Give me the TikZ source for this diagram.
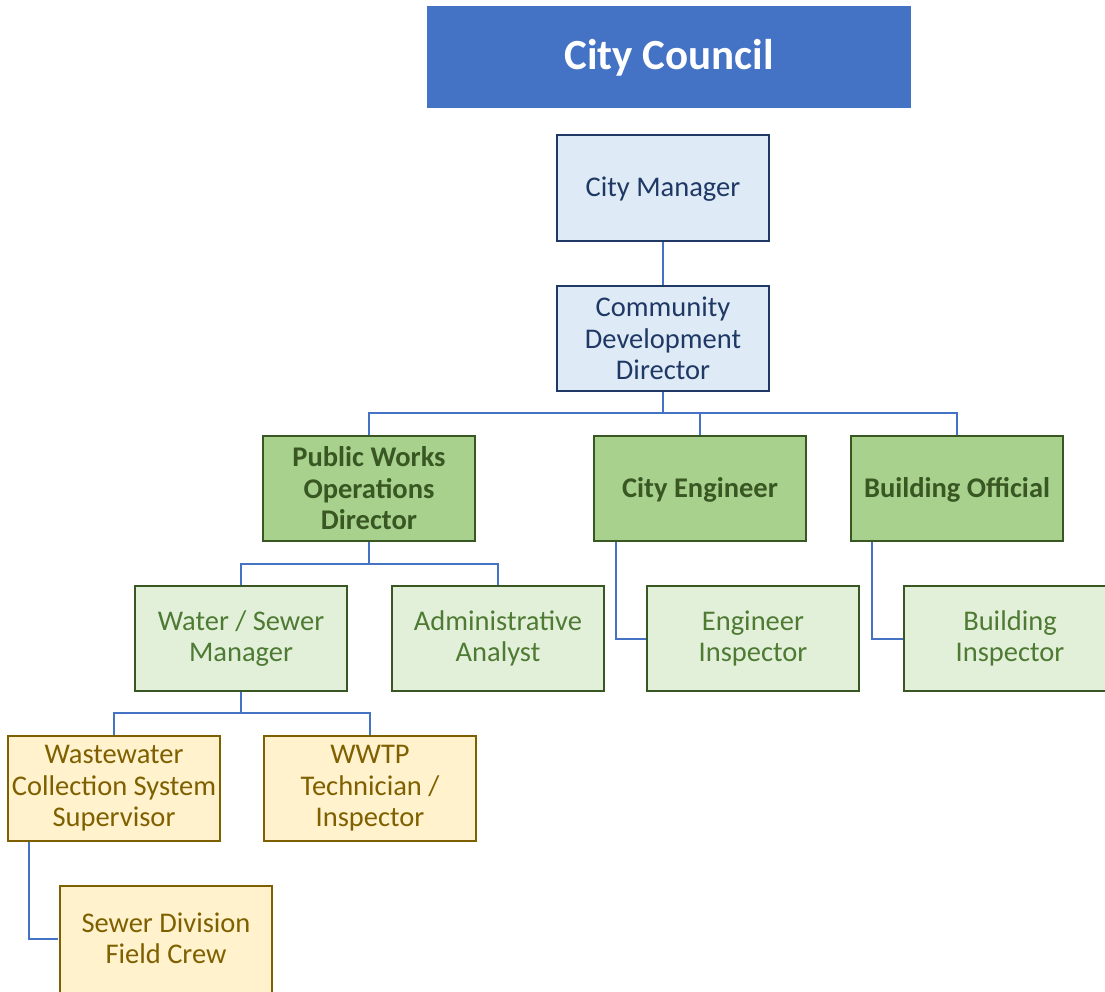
\documentclass[tikz,border=0pt]{standalone}
\usepackage{fontspec}
\setmainfont{Carlito}
\usetikzlibrary{calc}
\definecolor{ccblue}{HTML}{4472C4}
\definecolor{lbfill}{HTML}{DEEBF7}
\definecolor{lbdraw}{HTML}{203864}
\definecolor{lbtext}{HTML}{1F3864}
\definecolor{dgfill}{HTML}{A9D18E}
\definecolor{dgdraw}{HTML}{385723}
\definecolor{dgtext}{HTML}{385723}
\definecolor{lgfill}{HTML}{E2F0D9}
\definecolor{lgtext}{HTML}{4E7A33}
\definecolor{yfill}{HTML}{FFF2CC}
\definecolor{ydraw}{HTML}{7F6000}
\definecolor{ytext}{HTML}{7F6000}
\begin{document}
\begin{tikzpicture}[x=1pt,y=-1pt,
  box/.style={rectangle, inner sep=0pt, minimum width=212pt, minimum height=105pt,
    line width=2pt, align=center, font=\fontsize{28.5}{31.5}\selectfont},
  oneline/.style={text height=24pt, text depth=6pt},
  bluebox/.style={box, fill=lbfill, draw=lbdraw, text=lbtext},
  darkgreen/.style={box, fill=dgfill, draw=dgdraw, text=dgtext, font=\fontsize{28.5}{31.5}\selectfont\bfseries},
  lightgreen/.style={box, fill=lgfill, draw=dgdraw, text=lgtext},
  yellowbox/.style={box, fill=yfill, draw=ydraw, text=ytext},
  conn/.style={draw=ccblue, line width=2pt}]
\useasboundingbox (0,0) rectangle (1105,992);
\fill[white] (0,0) rectangle (1105,992);
\node[rectangle, fill=ccblue, minimum width=484pt, minimum height=102pt, inner sep=0pt,
  text=white, text height=34pt, text depth=9pt, font=\fontsize{43}{50}\selectfont\bfseries] (cc) at (669,57) {City Council};
\node[bluebox, oneline, minimum height=106pt] (cm) at (663,188) {City Manager};
\node[bluebox] (cdd) at (663,338.5) {Community\\Development\\Director};
\node[darkgreen] (pwod) at (369,488.5) {Public Works\\Operations\\Director};
\node[darkgreen, oneline] (ce) at (700,488.5) {City Engineer};
\node[darkgreen, oneline] (bo) at (957,488.5) {Building Official};
\node[lightgreen] (wsm) at (241,638.5) {Water / Sewer\\Manager};
\node[lightgreen] (aa) at (498,638.5) {Administrative\\Analyst};
\node[lightgreen] (ei) at (753,638.5) {Engineer\\Inspector};
\node[lightgreen] (bi) at (1010,638.5) {Building\\Inspector};
\node[yellowbox] (wcs) at (114,788.5) {Wastewater\\Collection System\\Supervisor};
\node[yellowbox] (wwtp) at (370,788.5) {WWTP\\Technician /\\Inspector};
\draw[fill=yfill, draw=ydraw, line width=2pt] (60,886) rectangle (272,998);
\node[yellowbox, fill=none, draw=none] (sdfc) at (166,938.5) {Sewer Division\\Field Crew};
\coordinate (bus1) at (663,413);
\coordinate (bus2) at (369,564);
\coordinate (bus3) at (241,713);
\draw[conn] (cm.south) -- (cdd.north);
\draw[conn] (cdd.south) -- (bus1);
\draw[conn] (pwod.north) |- (bus1) -| (bo.north);
\draw[conn] (ce.north) |- (bus1);
\draw[conn] (pwod.south) -- (bus2);
\draw[conn] (wsm.north) |- (bus2) -| (aa.north);
\draw[conn] (wsm.south) -- (bus3);
\draw[conn] (wcs.north) |- (bus3) -| (wwtp.north);
\draw[conn] ([xshift=23pt]ce.south west) |- (ei.west);
\draw[conn] ([xshift=22pt]bo.south west) |- (bi.west);
\draw[conn] ([xshift=22pt]wcs.south west) |- ([xshift=-1pt]sdfc.west);
\end{tikzpicture}
\end{document}
